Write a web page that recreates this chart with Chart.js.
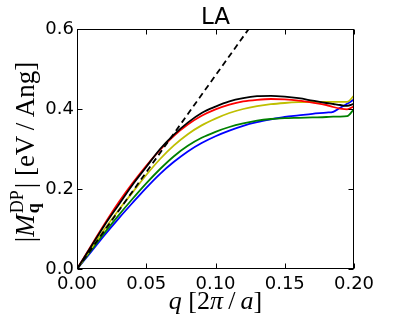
<!DOCTYPE html>
<html><head><meta charset="utf-8">
<script src="https://cdn.jsdelivr.net/npm/chart.js@4"></script>
<style>html,body{margin:0;padding:0;background:#fff}</style>
</head><body>
<canvas id="c" width="407" height="326"></canvas>
<script>
const chartTitle = 'LA';
const xTickValues = [0, 0.05, 0.10, 0.15, 0.20];
const yTickValues = [0.0, 0.2, 0.4, 0.6];
const qValues = [0,0.01,0.02,0.03,0.04,0.05,0.06,0.07,0.08,0.09,0.10,0.11,0.12,0.13,0.14,0.15,0.16,0.17,0.18,0.185,0.19,0.195,0.20];
const blackValues  = [0,0.055,0.110,0.160,0.210,0.255,0.300,0.336,0.366,0.390,0.406,0.419,0.427,0.432,0.433,0.431,0.427,0.421,0.415,0.4125,0.410,0.408,0.413];
const redValues    = [0,0.057,0.113,0.166,0.214,0.258,0.298,0.333,0.361,0.383,0.399,0.411,0.419,0.423,0.425,0.424,0.421,0.416,0.410,0.405,0.401,0.399,0.407];
const yellowValues = [0,0.050,0.100,0.147,0.191,0.235,0.275,0.309,0.337,0.359,0.376,0.390,0.400,0.407,0.412,0.415,0.417,0.418,0.418,0.418,0.418,0.418,0.433];
const greenValues  = [0,0.046,0.091,0.134,0.175,0.214,0.250,0.282,0.308,0.328,0.343,0.355,0.364,0.371,0.375,0.377,0.378,0.379,0.380,0.381,0.381,0.382,0.400];
const blueValues   = [0,0.042,0.085,0.126,0.165,0.203,0.238,0.268,0.294,0.315,0.332,0.346,0.358,0.367,0.374,0.380,0.384,0.388,0.391,0.393,0.403,0.413,0.424];
const dashQ = [0, 0.20];
const dashValues = [0, 0.968];

function pts(xs, ys){ return xs.map((x,i)=>({x:x, y:ys[i]})); }
function ds(xs, ys, color, extra){
  return Object.assign({data: pts(xs, ys), borderColor: color, backgroundColor: color, showLine: true,
    pointRadius: 0, borderWidth: 1.8, cubicInterpolationMode: 'monotone', fill: false}, extra||{});
}

const framePlugin = {
  id: 'frame',
  afterDatasetsDraw(chart){
    const {ctx, chartArea: a, scales} = chart;
    ctx.save();
    ctx.strokeStyle = '#000'; ctx.lineWidth = 1;
    const L = Math.round(a.left)+0.5, R = Math.round(a.right)-0.5, T = Math.round(a.top)+0.5, B = Math.round(a.bottom)-0.5;
    ctx.beginPath();
    xTickValues.forEach(v=>{ const px = Math.round(scales.x.getPixelForValue(v))+0.5;
      ctx.moveTo(px,B); ctx.lineTo(px,B-5); ctx.moveTo(px,T); ctx.lineTo(px,T+5); });
    yTickValues.forEach(v=>{ const py = Math.round(scales.y.getPixelForValue(v))+0.5;
      ctx.moveTo(L,py); ctx.lineTo(L+5,py); ctx.moveTo(R,py); ctx.lineTo(R-5,py); });
    ctx.stroke();
    ctx.strokeRect(L, T, R-L, B-T);
    // title
    ctx.fillStyle = '#000';
    ctx.font = '23px "DejaVu Sans"';
    ctx.textAlign = 'center'; ctx.textBaseline = 'alphabetic';
    ctx.fillText(chartTitle, (a.left+a.right)/2, 24);
    // x label
    const F = 'px "Liberation Serif"';
    const xs = [['q','italic 26'+F],[' [2','26'+F],['π','italic 26'+F],['\u2009/\u2009','26'+F],['a','italic 26'+F],[']','26'+F]];
    drawRich(ctx, xs, (a.left+a.right)/2, 309);
    // y label rotated
    ctx.save();
    ctx.translate(34, 152);
    ctx.rotate(-Math.PI/2);
    const f = '27'+F, fi = 'italic 27'+F;
    const rest = '| [eV\u2009/\u2009Ang]';
    ctx.font = f; const w1 = ctx.measureText('|').width;
    ctx.font = fi; const w2 = ctx.measureText('M').width;
    ctx.font = '18'+F; const w3 = ctx.measureText('DP').width;
    ctx.font = 'bold 18'+F; const w4 = ctx.measureText('q').width;
    ctx.font = f; const w5 = ctx.measureText(rest).width;
    const total = w1+w2+1+Math.max(w3,w4)+2+w5;
    let x = -total/2;
    ctx.textAlign = 'left';
    ctx.font = f; ctx.fillText('|', x, 0); x += w1;
    ctx.font = fi; ctx.fillText('M', x, 0); x += w2+1;
    ctx.font = '18'+F; ctx.fillText('DP', x, -11);
    ctx.font = 'bold 18'+F; ctx.fillText('q', x, 5);
    x += Math.max(w3,w4)+2;
    ctx.font = f; ctx.fillText(rest, x, 0);
    ctx.restore();
    ctx.restore();
  }
};
function drawRich(ctx, segs, cx, y){
  let total = 0;
  segs.forEach(s=>{ ctx.font = s[1]; total += ctx.measureText(s[0]).width; });
  let x = cx - total/2;
  ctx.textAlign = 'left';
  segs.forEach(s=>{ ctx.font = s[1]; ctx.fillText(s[0], x, y); x += ctx.measureText(s[0]).width; });
}

new Chart(document.getElementById('c'), {
  type: 'scatter',
  data: { datasets: [
    ds(dashQ, dashValues, '#000000', {borderDash:[6,4], cubicInterpolationMode:'default', tension:0, order:0}),
    ds(qValues, blackValues, '#000000', {order:1}),
    ds(qValues, redValues, '#ff0000', {order:2}),
    ds(qValues, yellowValues, '#bfbf00', {order:3}),
    ds(qValues, greenValues, '#008000', {order:4}),
    ds(qValues, blueValues, '#0000ff', {order:5})
  ]},
  options: {
    responsive: false, animation: false, devicePixelRatio: 1,
    layout: { padding: { top: 29, right: 53, left: 0, bottom: 0 } },
    plugins: { legend: {display:false}, tooltip: {enabled:false}, title: {display:false} },
    scales: {
      x: { type:'linear', min:0, max:0.2,
        afterFit(s){ s.height = 57; },
        afterBuildTicks(s){ s.ticks = xTickValues.map(v=>({value:v})); },
        ticks: { callback: v=>Number(v).toFixed(2), color:'#000', font:{family:'DejaVu Sans', size:18}, padding:5, maxRotation:0, autoSkip:false },
        grid: { display:false, drawTicks:false }, border: { display:false } },
      y: { type:'linear', min:0, max:0.6,
        afterFit(s){ s.width = 77; },
        afterBuildTicks(s){ s.ticks = yTickValues.map(v=>({value:v})); },
        ticks: { callback: v=>Number(v).toFixed(1), color:'#000', font:{family:'DejaVu Sans', size:18}, padding:3 },
        grid: { display:false, drawTicks:false }, border: { display:false } }
    }
  },
  plugins: [framePlugin]
});
</script>
</body></html>
